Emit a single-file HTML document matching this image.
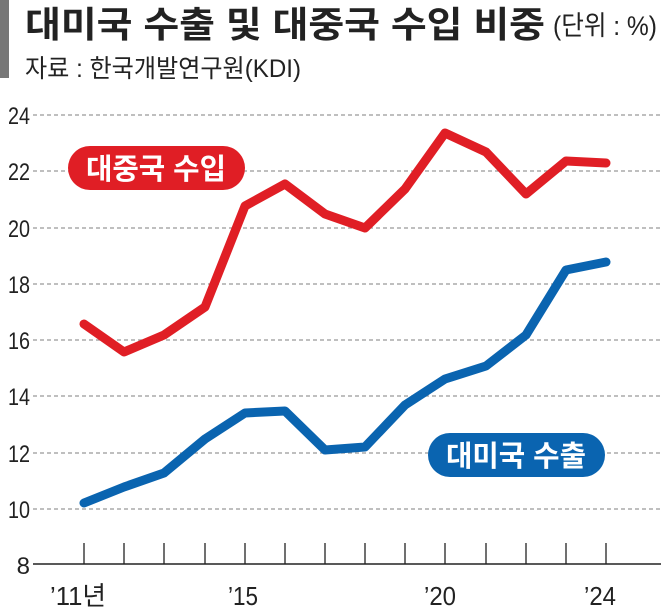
<!DOCTYPE html>
<html><head><meta charset="utf-8"><style>
html,body{margin:0;padding:0;background:#fff;}
svg{display:block;}
text{font-family:"Liberation Sans","Noto Sans CJK KR",sans-serif;}
</style></head><body>
<svg width="661" height="608" viewBox="0 0 661 608" xmlns="http://www.w3.org/2000/svg">
<rect x="0" y="0" width="9" height="78" fill="#777"/>
<text x="25" y="37" font-size="36" font-weight="bold" fill="#222" textLength="520" lengthAdjust="spacingAndGlyphs" font-family="Noto Sans CJK KR">대미국 수출 및 대중국 수입 비중</text>
<text x="553" y="35" font-size="27" fill="#222" textLength="104" lengthAdjust="spacingAndGlyphs" font-family="Noto Sans CJK KR">(단위 : %)</text>
<text x="25" y="77" font-size="25" fill="#222" textLength="276" lengthAdjust="spacingAndGlyphs" font-family="Noto Sans CJK KR">자료 :  한국개발연구원(KDI)</text>
<g stroke="#999" stroke-width="1.3" stroke-dasharray="4,3">
<line x1="33" y1="115" x2="661" y2="115"/><line x1="33" y1="171" x2="661" y2="171"/>
<line x1="33" y1="228" x2="661" y2="228"/><line x1="33" y1="284" x2="661" y2="284"/>
<line x1="33" y1="340" x2="661" y2="340"/><line x1="33" y1="396" x2="661" y2="396"/>
<line x1="33" y1="453" x2="661" y2="453"/><line x1="33" y1="509" x2="661" y2="509"/>
</g>
<g font-size="24" fill="#222" text-anchor="end">
<text x="30" y="124" textLength="22" lengthAdjust="spacingAndGlyphs">24</text><text x="30" y="180" textLength="22" lengthAdjust="spacingAndGlyphs">22</text><text x="30" y="237" textLength="22" lengthAdjust="spacingAndGlyphs">20</text>
<text x="30" y="293" textLength="22" lengthAdjust="spacingAndGlyphs">18</text><text x="30" y="349" textLength="22" lengthAdjust="spacingAndGlyphs">16</text><text x="30" y="405" textLength="22" lengthAdjust="spacingAndGlyphs">14</text>
<text x="30" y="462" textLength="22" lengthAdjust="spacingAndGlyphs">12</text><text x="30" y="518" textLength="22" lengthAdjust="spacingAndGlyphs">10</text><text x="30" y="574">8</text>
</g>
<line x1="33" y1="564" x2="661" y2="564" stroke="#222" stroke-width="1.5"/>
<g stroke="#222" stroke-width="1.3">
<line x1="84" y1="543" x2="84" y2="564"/><line x1="124" y1="543" x2="124" y2="564"/>
<line x1="164" y1="543" x2="164" y2="564"/><line x1="205" y1="543" x2="205" y2="564"/>
<line x1="245" y1="543" x2="245" y2="564"/><line x1="285" y1="543" x2="285" y2="564"/>
<line x1="325" y1="543" x2="325" y2="564"/><line x1="365" y1="543" x2="365" y2="564"/>
<line x1="405" y1="543" x2="405" y2="564"/><line x1="445" y1="543" x2="445" y2="564"/>
<line x1="486" y1="543" x2="486" y2="564"/><line x1="526" y1="543" x2="526" y2="564"/>
<line x1="566" y1="543" x2="566" y2="564"/><line x1="606" y1="543" x2="606" y2="564"/>
</g>
<g font-size="26" fill="#222">
<text x="50" y="605" font-family="Noto Sans CJK KR" textLength="56" lengthAdjust="spacingAndGlyphs">’11년</text>
<text x="228" y="605" textLength="30" lengthAdjust="spacingAndGlyphs">’15</text>
<text x="424" y="605" textLength="32" lengthAdjust="spacingAndGlyphs">’20</text>
<text x="584" y="605" textLength="32" lengthAdjust="spacingAndGlyphs">’24</text>
</g>
<polyline fill="none" stroke="#e01e25" stroke-width="9" stroke-linejoin="round" stroke-linecap="round"
points="84,324 124,352 164,335 205,307 245,206 285,184 325,214 365,228 405,189 445,133 486,152 526,194 566,161 606,163"/>
<polyline fill="none" stroke="#0a64b0" stroke-width="9" stroke-linejoin="round" stroke-linecap="round"
points="84,503 124,487 164,473 205,439 245,413 285,411 325,450 365,447 405,405 445,379 486,366 526,335 566,270 606,262"/>
<rect x="68" y="146" width="177" height="44" rx="22" fill="#e01e25"/>
<text x="156" y="179" font-size="29" font-weight="bold" fill="#fff" text-anchor="middle" font-family="Noto Sans CJK KR" textLength="140" lengthAdjust="spacingAndGlyphs">대중국 수입</text>
<rect x="428" y="433" width="177" height="44" rx="22" fill="#0a64b0"/>
<text x="516" y="466" font-size="29" font-weight="bold" fill="#fff" text-anchor="middle" font-family="Noto Sans CJK KR" textLength="140" lengthAdjust="spacingAndGlyphs">대미국 수출</text>
</svg>
</body></html>
